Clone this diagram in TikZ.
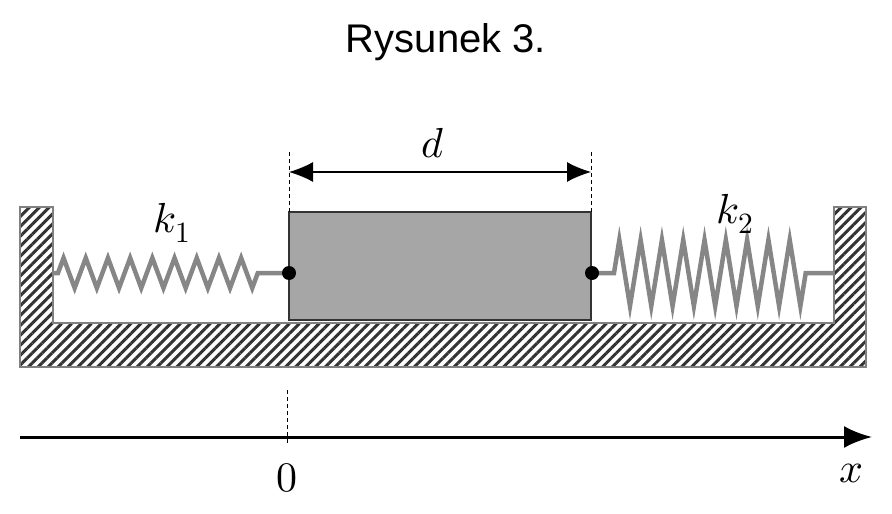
\documentclass[tikz,border=0pt]{standalone}
\usepackage{unicode-math}
\setmathfont{Latin Modern Math}
\newfontfamily\sans{Liberation Sans}
\usetikzlibrary{patterns.meta,decorations.pathmorphing,arrows.meta}
\begin{document}
\begin{tikzpicture}[x=1pt,y=-1pt,
  spring/.style={draw=gray!95, line width=4.5pt, line join=miter},
  guide/.style={line width=0.8pt, dash pattern=on 4pt off 3pt},
  lab/.style={font=\fontsize{42}{46}\selectfont}]
\useasboundingbox (0,0) rectangle (892,514);
\node[font=\sans\fontsize{40}{44}\selectfont] (t) at (446,42) {Rysunek 3.};
% base
\path[pattern={Lines[angle=45,distance=7pt,line width=3pt]}, pattern color=black!80, draw=gray, line width=1.5pt]
 (20,207) -- (53,207) -- (53,323) -- (834,323) -- (834,207) -- (866,207) -- (866,367) -- (20,367) -- cycle;
% block
\node[draw=black!80, fill=gray!70, line width=1.2pt, minimum width=302pt, minimum height=108pt, inner sep=0] (m) at (440,266) {};
\coordinate (l) at (289,273); \coordinate (r) at (592,273);
\coordinate (wl) at (53,273); \coordinate (wr) at (834,273);
\draw[spring, decorate, decoration={zigzag, amplitude=15pt, segment length=22.2pt, pre length=5pt, post length=31pt}] (wl) -- (l);
\draw[spring, decorate, decoration={zigzag, amplitude=33pt, segment length=21.3pt, pre length=22pt, post length=20pt}] (r) -- (wr);
\fill (l) circle (7pt) (r) circle (7pt);
% d
\draw[guide] (289,152) -- (289,212) (591,152) -- (591,212);
\coordinate (da) at (289,172); \coordinate (db) at (591,172);
\draw[line width=1.2pt, {Latex[length=24pt,width=20pt]}-{Latex[length=24pt,width=20pt]}] (da) -- (db);
\node[lab] (d) at (433,143) {$d$};
\node[lab] (k1) at (172,223) {$k_1$};
\node[lab] (k2) at (735,214) {$k_2$};
% axis
\coordinate (a0) at (20,437); \coordinate (a1) at (872,437);
\draw[line width=3pt, -{Latex[length=28pt,width=22pt]}] (a0) -- (a1);
\draw[guide] (287,390) -- (287,445);
\node[lab] (z) at (287,478) {$0$};
\node[lab] (x) at (852,473) {$x$};
\end{tikzpicture}
\end{document}
